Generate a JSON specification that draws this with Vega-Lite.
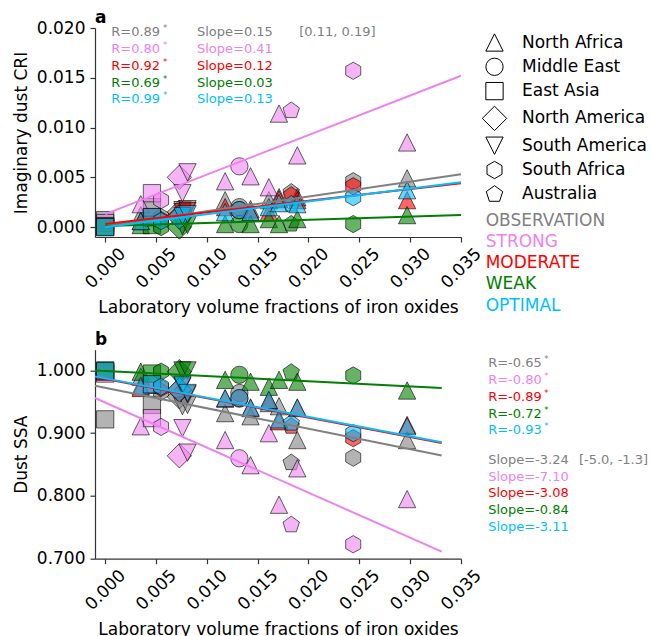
{
  "$schema": "https://vega.github.io/schema/vega-lite/v6.json",
  "padding": {"left": 12, "top": 9, "right": 0, "bottom": 0},
  "spacing": 14.7,
  "config": {
    "font": "DejaVu Sans",
    "view": {"stroke": null},
    "axis": {"grid": false, "domainColor": "#333333", "tickColor": "#333333", "domainWidth": 1.2, "tickWidth": 1.2, "tickSize": 5, "labelFontSize": 17, "titleFontSize": 17, "labelColor": "black", "titleColor": "black", "titleFontWeight": "normal", "labelFont": "DejaVu Sans", "titleFont": "DejaVu Sans", "labelFlush": false, "labelOverlap": false},
    "title": {"fontSize": 17, "fontWeight": "bold", "anchor": "start", "frame": "group", "font": "DejaVu Sans", "baseline": "alphabetic", "color": "black"}
  },
  "resolve": {"legend": {"color": "independent", "shape": "independent"}},
  "datasets": {
    "points": [
      {"region": "East Asia", "x": 0.0, "scheme": "OBSERVATION", "cri": 0.0007, "ssa": 0.922},
      {"region": "North Africa", "x": 0.0035, "scheme": "OBSERVATION", "cri": 0.0012, "ssa": 0.99},
      {"region": "East Asia", "x": 0.0046, "scheme": "OBSERVATION", "cri": 0.002, "ssa": 0.945},
      {"region": "South Africa", "x": 0.0055, "scheme": "OBSERVATION", "cri": 0.001, "ssa": 0.966},
      {"region": "North America", "x": 0.0073, "scheme": "OBSERVATION", "cri": 0.0015, "ssa": 0.958},
      {"region": "South America", "x": 0.0076, "scheme": "OBSERVATION", "cri": 0.0017, "ssa": 0.943},
      {"region": "South America", "x": 0.0081, "scheme": "OBSERVATION", "cri": 0.0018, "ssa": 0.945},
      {"region": "North Africa", "x": 0.0118, "scheme": "OBSERVATION", "cri": 0.0027, "ssa": 0.932},
      {"region": "Middle East", "x": 0.0132, "scheme": "OBSERVATION", "cri": 0.002, "ssa": 0.964},
      {"region": "North Africa", "x": 0.0143, "scheme": "OBSERVATION", "cri": 0.0018, "ssa": 0.927},
      {"region": "North Africa", "x": 0.0161, "scheme": "OBSERVATION", "cri": 0.0027, "ssa": 0.948},
      {"region": "North Africa", "x": 0.0171, "scheme": "OBSERVATION", "cri": 0.003, "ssa": 0.943},
      {"region": "Australia", "x": 0.0183, "scheme": "OBSERVATION", "cri": 0.0035, "ssa": 0.853},
      {"region": "North Africa", "x": 0.0189, "scheme": "OBSERVATION", "cri": 0.003, "ssa": 0.889},
      {"region": "South Africa", "x": 0.0244, "scheme": "OBSERVATION", "cri": 0.0046, "ssa": 0.861},
      {"region": "North Africa", "x": 0.0297, "scheme": "OBSERVATION", "cri": 0.0049, "ssa": 0.889},

      {"region": "East Asia", "x": 0.0, "scheme": "STRONG", "cri": 0.0004, "ssa": 0.995},
      {"region": "North Africa", "x": 0.0035, "scheme": "STRONG", "cri": 0.0023, "ssa": 0.911},
      {"region": "East Asia", "x": 0.0046, "scheme": "STRONG", "cri": 0.0034, "ssa": 0.924},
      {"region": "South Africa", "x": 0.0055, "scheme": "STRONG", "cri": 0.0027, "ssa": 0.91},
      {"region": "North America", "x": 0.0073, "scheme": "STRONG", "cri": 0.005, "ssa": 0.864},
      {"region": "South America", "x": 0.0076, "scheme": "STRONG", "cri": 0.0034, "ssa": 0.908},
      {"region": "South America", "x": 0.0081, "scheme": "STRONG", "cri": 0.0055, "ssa": 0.869},
      {"region": "North Africa", "x": 0.0118, "scheme": "STRONG", "cri": 0.0046, "ssa": 0.889},
      {"region": "Middle East", "x": 0.0132, "scheme": "STRONG", "cri": 0.0061, "ssa": 0.86},
      {"region": "North Africa", "x": 0.0143, "scheme": "STRONG", "cri": 0.0051, "ssa": 0.849},
      {"region": "North Africa", "x": 0.0161, "scheme": "STRONG", "cri": 0.004, "ssa": 0.9},
      {"region": "North Africa", "x": 0.0171, "scheme": "STRONG", "cri": 0.0114, "ssa": 0.786},
      {"region": "Australia", "x": 0.0183, "scheme": "STRONG", "cri": 0.0117, "ssa": 0.754},
      {"region": "North Africa", "x": 0.0189, "scheme": "STRONG", "cri": 0.0072, "ssa": 0.844},
      {"region": "South Africa", "x": 0.0244, "scheme": "STRONG", "cri": 0.0157, "ssa": 0.723},
      {"region": "North Africa", "x": 0.0297, "scheme": "STRONG", "cri": 0.0085, "ssa": 0.795},

      {"region": "East Asia", "x": 0.0, "scheme": "MODERATE", "cri": 0.0001, "ssa": 0.998},
      {"region": "North Africa", "x": 0.0035, "scheme": "MODERATE", "cri": 0.0006, "ssa": 0.972},
      {"region": "East Asia", "x": 0.0046, "scheme": "MODERATE", "cri": 0.001, "ssa": 0.977},
      {"region": "South Africa", "x": 0.0055, "scheme": "MODERATE", "cri": 0.0007, "ssa": 0.972},
      {"region": "North America", "x": 0.0073, "scheme": "MODERATE", "cri": 0.0011, "ssa": 0.968},
      {"region": "South America", "x": 0.0076, "scheme": "MODERATE", "cri": 0.0015, "ssa": 0.975},
      {"region": "South America", "x": 0.0081, "scheme": "MODERATE", "cri": 0.0016, "ssa": 0.962},
      {"region": "North Africa", "x": 0.0118, "scheme": "MODERATE", "cri": 0.002, "ssa": 0.955},
      {"region": "Middle East", "x": 0.0132, "scheme": "MODERATE", "cri": 0.0017, "ssa": 0.955},
      {"region": "North Africa", "x": 0.0143, "scheme": "MODERATE", "cri": 0.0015, "ssa": 0.94},
      {"region": "North Africa", "x": 0.0161, "scheme": "MODERATE", "cri": 0.0015, "ssa": 0.952},
      {"region": "North Africa", "x": 0.0171, "scheme": "MODERATE", "cri": 0.0028, "ssa": 0.919},
      {"region": "Australia", "x": 0.0183, "scheme": "MODERATE", "cri": 0.0032, "ssa": 0.911},
      {"region": "North Africa", "x": 0.0189, "scheme": "MODERATE", "cri": 0.0027, "ssa": 0.94},
      {"region": "South Africa", "x": 0.0244, "scheme": "MODERATE", "cri": 0.0041, "ssa": 0.892},
      {"region": "North Africa", "x": 0.0297, "scheme": "MODERATE", "cri": 0.0027, "ssa": 0.913},

      {"region": "East Asia", "x": 0.0, "scheme": "WEAK", "cri": 0.0, "ssa": 1.0},
      {"region": "North Africa", "x": 0.0035, "scheme": "WEAK", "cri": 0.0002, "ssa": 0.998},
      {"region": "East Asia", "x": 0.0046, "scheme": "WEAK", "cri": 0.0002, "ssa": 0.995},
      {"region": "South Africa", "x": 0.0055, "scheme": "WEAK", "cri": 0.0, "ssa": 0.998},
      {"region": "North America", "x": 0.0073, "scheme": "WEAK", "cri": 0.0, "ssa": 0.998},
      {"region": "South America", "x": 0.0076, "scheme": "WEAK", "cri": 0.0001, "ssa": 1.0},
      {"region": "South America", "x": 0.0081, "scheme": "WEAK", "cri": 0.0002, "ssa": 1.0},
      {"region": "North Africa", "x": 0.0118, "scheme": "WEAK", "cri": 0.0003, "ssa": 0.985},
      {"region": "Middle East", "x": 0.0132, "scheme": "WEAK", "cri": 0.0003, "ssa": 0.993},
      {"region": "North Africa", "x": 0.0143, "scheme": "WEAK", "cri": 0.0003, "ssa": 0.982},
      {"region": "North Africa", "x": 0.0161, "scheme": "WEAK", "cri": 0.0008, "ssa": 0.974},
      {"region": "North Africa", "x": 0.0171, "scheme": "WEAK", "cri": 0.0003, "ssa": 0.985},
      {"region": "Australia", "x": 0.0183, "scheme": "WEAK", "cri": 0.0003, "ssa": 0.997},
      {"region": "North Africa", "x": 0.0189, "scheme": "WEAK", "cri": 0.0008, "ssa": 0.982},
      {"region": "South Africa", "x": 0.0244, "scheme": "WEAK", "cri": 0.0003, "ssa": 0.992},
      {"region": "North Africa", "x": 0.0297, "scheme": "WEAK", "cri": 0.0012, "ssa": 0.968},

      {"region": "East Asia", "x": 0.0, "scheme": "OPTIMAL", "cri": 0.0, "ssa": 0.999},
      {"region": "North Africa", "x": 0.0035, "scheme": "OPTIMAL", "cri": 0.0006, "ssa": 0.975},
      {"region": "East Asia", "x": 0.0046, "scheme": "OPTIMAL", "cri": 0.001, "ssa": 0.978},
      {"region": "South Africa", "x": 0.0055, "scheme": "OPTIMAL", "cri": 0.0006, "ssa": 0.974},
      {"region": "North America", "x": 0.0073, "scheme": "OPTIMAL", "cri": 0.001, "ssa": 0.969},
      {"region": "South America", "x": 0.0076, "scheme": "OPTIMAL", "cri": 0.0011, "ssa": 0.977},
      {"region": "South America", "x": 0.0081, "scheme": "OPTIMAL", "cri": 0.0013, "ssa": 0.964},
      {"region": "North Africa", "x": 0.0118, "scheme": "OPTIMAL", "cri": 0.0015, "ssa": 0.956},
      {"region": "Middle East", "x": 0.0132, "scheme": "OPTIMAL", "cri": 0.0017, "ssa": 0.956},
      {"region": "North Africa", "x": 0.0143, "scheme": "OPTIMAL", "cri": 0.0015, "ssa": 0.941},
      {"region": "North Africa", "x": 0.0161, "scheme": "OPTIMAL", "cri": 0.002, "ssa": 0.953},
      {"region": "North Africa", "x": 0.0171, "scheme": "OPTIMAL", "cri": 0.0024, "ssa": 0.922},
      {"region": "Australia", "x": 0.0183, "scheme": "OPTIMAL", "cri": 0.0023, "ssa": 0.916},
      {"region": "North Africa", "x": 0.0189, "scheme": "OPTIMAL", "cri": 0.0023, "ssa": 0.941},
      {"region": "South Africa", "x": 0.0244, "scheme": "OPTIMAL", "cri": 0.003, "ssa": 0.9},
      {"region": "North Africa", "x": 0.0297, "scheme": "OPTIMAL", "cri": 0.0037, "ssa": 0.911}
    ],
    "lines_a": [
      {"scheme": "OBSERVATION", "x": 0.0, "value": 0.0001},
      {"scheme": "OBSERVATION", "x": 0.035, "value": 0.0053},
      {"scheme": "STRONG", "x": 0.0, "value": 0.0013},
      {"scheme": "STRONG", "x": 0.035, "value": 0.0152},
      {"scheme": "MODERATE", "x": 0.0, "value": 0.0003},
      {"scheme": "MODERATE", "x": 0.035, "value": 0.0044},
      {"scheme": "WEAK", "x": 0.0, "value": 0.0001},
      {"scheme": "WEAK", "x": 0.035, "value": 0.0012},
      {"scheme": "OPTIMAL", "x": 0.0, "value": 0.0},
      {"scheme": "OPTIMAL", "x": 0.035, "value": 0.0045}
    ],
    "lines_b": [
      {"scheme": "OBSERVATION", "x": -0.001, "value": 0.9756},
      {"scheme": "OBSERVATION", "x": 0.0331, "value": 0.8644},
      {"scheme": "STRONG", "x": -0.001, "value": 0.956},
      {"scheme": "STRONG", "x": 0.0331, "value": 0.7112},
      {"scheme": "MODERATE", "x": -0.001, "value": 0.9895},
      {"scheme": "MODERATE", "x": 0.0331, "value": 0.8845},
      {"scheme": "WEAK", "x": -0.001, "value": 1.0},
      {"scheme": "WEAK", "x": 0.0331, "value": 0.9719},
      {"scheme": "OPTIMAL", "x": -0.001, "value": 0.9905},
      {"scheme": "OPTIMAL", "x": 0.0331, "value": 0.8857}
    ],
    "ann": [
      {"scheme": "OBSERVATION", "r_a": "R=0.89", "s_a": "Slope=0.15", "ci_a": "[0.11, 0.19]", "r_b": "R=-0.65", "s_b": "Slope=-3.24", "ci_b": "[-5.0, -1.3]", "star": "*"},
      {"scheme": "STRONG", "r_a": "R=0.80", "s_a": "Slope=0.41", "ci_a": "", "r_b": "R=-0.80", "s_b": "Slope=-7.10", "ci_b": "", "star": "*"},
      {"scheme": "MODERATE", "r_a": "R=0.92", "s_a": "Slope=0.12", "ci_a": "", "r_b": "R=-0.89", "s_b": "Slope=-3.08", "ci_b": "", "star": "*"},
      {"scheme": "WEAK", "r_a": "R=0.69", "s_a": "Slope=0.03", "ci_a": "", "r_b": "R=-0.72", "s_b": "Slope=-0.84", "ci_b": "", "star": "*"},
      {"scheme": "OPTIMAL", "r_a": "R=0.99", "s_a": "Slope=0.13", "ci_a": "", "r_b": "R=-0.93", "s_b": "Slope=-3.11", "ci_b": "", "star": "*"}
    ]
  },
  "vconcat": [
    {
      "width": 366,
      "height": 209,
      "title": {"text": "a", "offset": -8},
      "resolve": {"scale": {"y": "independent"}},
      "layer": [
        {
          "layer": [
            {
              "data": {"name": "points"},
              "mark": {"type": "point", "filled": true, "size": 299, "opacity": 1, "fillOpacity": 0.6, "stroke": "black", "strokeOpacity": 0.6, "strokeWidth": 1},
              "encoding": {
                "x": {"field": "x", "type": "quantitative", "title": "Laboratory volume fractions of iron oxides",
                      "scale": {"domain": [-0.001, 0.035], "nice": false, "zero": false},
                      "axis": {"values": [0, 0.005, 0.01, 0.015, 0.02, 0.025, 0.03, 0.035], "format": ".3f", "labelAngle": -45, "labelAlign": "center", "labelBaseline": "middle", "labelPadding": 26, "titlePadding": 9}},
                "y": {"field": "cri", "type": "quantitative", "title": "Imaginary dust CRI",
                      "scale": {"domain": [-0.001, 0.02], "nice": false, "zero": false},
                      "axis": {"values": [0, 0.005, 0.01, 0.015, 0.02], "format": ".3f", "labelPadding": 5, "titlePadding": 6}},
                "shape": {"field": "region", "type": "nominal",
                          "scale": {"domain": ["North Africa", "Middle East", "East Asia", "North America", "South America", "South Africa", "Australia"],
                                    "range": ["M0,-1L1,1L-1,1Z", "circle", "square", "M0,-1.41L1.41,0L0,1.41L-1.41,0Z", "M0,1L1,-1L-1,-1Z", "M0,-1L0.866,-0.5L0.866,0.5L0,1L-0.866,0.5L-0.866,-0.5Z", "M0,-1L0.951,-0.309L0.588,0.809L-0.588,0.809L-0.951,-0.309Z"]},
                          "legend": {"title": null, "orient": "none", "legendX": 390, "legendY": 5, "padding": 0, "symbolSize": 299, "symbolStrokeWidth": 1, "symbolStrokeColor": "black", "symbolFillColor": "transparent", "labelFontSize": 17, "labelColor": "black", "labelOffset": 18, "rowPadding": 1.3,
                                     "encode": {"symbols": {"update": {"fill": {"value": "transparent"}, "stroke": {"value": "black"}, "strokeWidth": {"value": 1}, "opacity": {"value": 1}, "strokeOpacity": {"value": 1}}}}}},
                "color": {"field": "scheme", "type": "nominal",
                          "scale": {"domain": ["OBSERVATION", "STRONG", "MODERATE", "WEAK", "OPTIMAL"], "range": ["#808080", "#EE82EE", "#FF0000", "#008000", "#00BFFF"]},
                          "legend": {"title": null, "orient": "none", "legendX": 373.7, "legendY": 184, "padding": 0, "symbolSize": 0, "symbolStrokeWidth": 0, "symbolOpacity": 0, "labelFontSize": 17, "labelOffset": 0, "rowPadding": 3.3,
                                     "labelColor": {"expr": "datum.value == 'OBSERVATION' ? '#808080' : datum.value == 'STRONG' ? '#EE82EE' : datum.value == 'MODERATE' ? '#FF0000' : datum.value == 'WEAK' ? '#008000' : '#00BFFF'"}}}
              }
            },
            {
              "data": {"name": "lines_a"},
              "mark": {"type": "line", "strokeWidth": 2},
              "encoding": {
                "x": {"field": "x", "type": "quantitative"},
                "y": {"field": "value", "type": "quantitative"},
                "color": {"field": "scheme", "type": "nominal"}
              }
            }
          ]
        },
        {
          "data": {"name": "ann"},
          "mark": {"type": "text", "align": "left", "baseline": "middle", "fontSize": 13, "clip": false},
          "encoding": {
            "x": {"datum": 0.0006, "type": "quantitative"},
            "y": {"field": "scheme", "type": "nominal", "scale": {"domain": ["OBSERVATION", "STRONG", "MODERATE", "WEAK", "OPTIMAL"], "range": [4.3, 71.4], "padding": 0}, "axis": null},
            "text": {"field": "r_a"},
            "color": {"field": "scheme", "type": "nominal"}
          }
        },
        {
          "data": {"name": "ann"},
          "mark": {"type": "text", "align": "left", "baseline": "middle", "fontSize": 8.5, "clip": false},
          "encoding": {
            "x": {"datum": 0.0057, "type": "quantitative"},
            "y": {"field": "scheme", "type": "nominal", "scale": {"domain": ["OBSERVATION", "STRONG", "MODERATE", "WEAK", "OPTIMAL"], "range": [0.3, 67.4], "padding": 0}, "axis": null},
            "text": {"field": "star"},
            "color": {"field": "scheme", "type": "nominal"}
          }
        },
        {
          "data": {"name": "ann"},
          "mark": {"type": "text", "align": "left", "baseline": "middle", "fontSize": 13, "clip": false},
          "encoding": {
            "x": {"datum": 0.00903, "type": "quantitative"},
            "y": {"field": "scheme", "type": "nominal", "scale": {"domain": ["OBSERVATION", "STRONG", "MODERATE", "WEAK", "OPTIMAL"], "range": [4.3, 71.4], "padding": 0}, "axis": null},
            "text": {"field": "s_a"},
            "color": {"field": "scheme", "type": "nominal"}
          }
        },
        {
          "data": {"name": "ann"},
          "mark": {"type": "text", "align": "left", "baseline": "middle", "fontSize": 13, "clip": false},
          "encoding": {
            "x": {"datum": 0.01909, "type": "quantitative"},
            "y": {"field": "scheme", "type": "nominal", "scale": {"domain": ["OBSERVATION", "STRONG", "MODERATE", "WEAK", "OPTIMAL"], "range": [4.3, 71.4], "padding": 0}, "axis": null},
            "text": {"field": "ci_a"},
            "color": {"field": "scheme", "type": "nominal"}
          }
        }
      ]
    },
    {
      "width": 366,
      "height": 209,
      "title": {"text": "b", "offset": 1},
      "resolve": {"scale": {"y": "independent"}},
      "layer": [
        {
          "layer": [
            {
              "data": {"name": "points"},
              "mark": {"type": "point", "filled": true, "size": 299, "opacity": 1, "fillOpacity": 0.6, "stroke": "black", "strokeOpacity": 0.6, "strokeWidth": 1},
              "encoding": {
                "x": {"field": "x", "type": "quantitative", "title": "Laboratory volume fractions of iron oxides",
                      "scale": {"domain": [-0.001, 0.035], "nice": false, "zero": false},
                      "axis": {"values": [0, 0.005, 0.01, 0.015, 0.02, 0.025, 0.03, 0.035], "format": ".3f", "labelAngle": -45, "labelAlign": "center", "labelBaseline": "middle", "labelPadding": 26, "titlePadding": 9}},
                "y": {"field": "ssa", "type": "quantitative", "title": "Dust SSA",
                      "scale": {"domain": [0.7, 1.033], "nice": false, "zero": false},
                      "axis": {"values": [0.7, 0.75, 0.8, 0.85, 0.9, 0.95, 1.0], "format": ".3f", "labelPadding": 5, "titlePadding": 6}},
                "shape": {"field": "region", "type": "nominal", "legend": null},
                "color": {"field": "scheme", "type": "nominal", "legend": null}
              }
            },
            {
              "data": {"name": "lines_b"},
              "mark": {"type": "line", "strokeWidth": 2},
              "encoding": {
                "x": {"field": "x", "type": "quantitative"},
                "y": {"field": "value", "type": "quantitative"},
                "color": {"field": "scheme", "type": "nominal", "legend": null}
              }
            }
          ]
        },
        {
          "data": {"name": "ann"},
          "mark": {"type": "text", "align": "left", "baseline": "middle", "fontSize": 13, "clip": false},
          "encoding": {
            "x": {"datum": 0.03767, "type": "quantitative"},
            "y": {"field": "scheme", "type": "nominal", "scale": {"domain": ["OBSERVATION", "STRONG", "MODERATE", "WEAK", "OPTIMAL"], "range": [13.3, 80.7], "padding": 0}, "axis": null},
            "text": {"field": "r_b"},
            "color": {"field": "scheme", "type": "nominal", "legend": null}
          }
        },
        {
          "data": {"name": "ann"},
          "mark": {"type": "text", "align": "left", "baseline": "middle", "fontSize": 8.5, "clip": false},
          "encoding": {
            "x": {"datum": 0.0432, "type": "quantitative"},
            "y": {"field": "scheme", "type": "nominal", "scale": {"domain": ["OBSERVATION", "STRONG", "MODERATE", "WEAK", "OPTIMAL"], "range": [9.3, 76.7], "padding": 0}, "axis": null},
            "text": {"field": "star"},
            "color": {"field": "scheme", "type": "nominal", "legend": null}
          }
        },
        {
          "data": {"name": "ann"},
          "mark": {"type": "text", "align": "left", "baseline": "middle", "fontSize": 13, "clip": false},
          "encoding": {
            "x": {"datum": 0.03767, "type": "quantitative"},
            "y": {"field": "scheme", "type": "nominal", "scale": {"domain": ["OBSERVATION", "STRONG", "MODERATE", "WEAK", "OPTIMAL"], "range": [110, 177.3], "padding": 0}, "axis": null},
            "text": {"field": "s_b"},
            "color": {"field": "scheme", "type": "nominal", "legend": null}
          }
        },
        {
          "data": {"name": "ann"},
          "mark": {"type": "text", "align": "left", "baseline": "middle", "fontSize": 13, "clip": false},
          "encoding": {
            "x": {"datum": 0.0466, "type": "quantitative"},
            "y": {"field": "scheme", "type": "nominal", "scale": {"domain": ["OBSERVATION", "STRONG", "MODERATE", "WEAK", "OPTIMAL"], "range": [110, 177.3], "padding": 0}, "axis": null},
            "text": {"field": "ci_b"},
            "color": {"field": "scheme", "type": "nominal", "legend": null}
          }
        }
      ]
    }
  ]
}
